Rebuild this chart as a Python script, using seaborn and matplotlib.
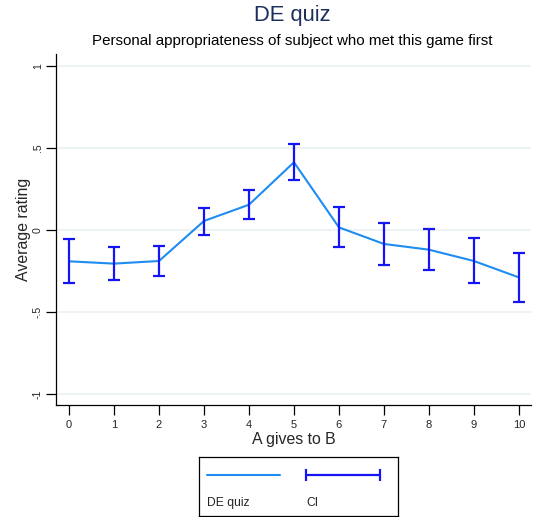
import numpy as np
import pandas as pd
import matplotlib
matplotlib.use("Agg")
import matplotlib.pyplot as plt
import seaborn as sns

# Amount A gives to B and the mean rating with its confidence interval
gives = [0, 1, 2, 3, 4, 5, 6, 7, 8, 9, 10]
mean_rating = [-0.191, -0.205, -0.189, 0.055, 0.154, 0.413, 0.016, -0.085, -0.120, -0.189, -0.289]
ci_upper = [-0.055, -0.106, -0.098, 0.132, 0.246, 0.522, 0.138, 0.045, 0.008, -0.051, -0.142]
ci_lower = [-0.321, -0.305, -0.279, -0.029, 0.065, 0.307, -0.102, -0.215, -0.246, -0.323, -0.439]
y_ticks = [-1, -0.5, 0, 0.5, 1]
y_tick_labels = ["-1", "-.5", "0", ".5", "1"]

df = pd.DataFrame({"gives": gives, "mean": mean_rating,
                   "lo": ci_lower, "hi": ci_upper})

sns.set_theme(style="white")
plt.rcParams["font.family"] = ["Liberation Sans", "DejaVu Sans"]

line_color = "#1e8cf0"
ci_color = "#1414f5"
grid_color = "#eaf0f2"

fig = plt.figure(figsize=(5.33, 5.17), dpi=100)
ax = fig.add_axes([56 / 533, 1 - 405 / 517, (531 - 56) / 533, (405 - 54) / 517])

for yv in y_ticks:
    ax.axhline(yv, color=grid_color, lw=1.2, zorder=0)

sns.lineplot(data=df, x="gives", y="mean", ax=ax, color=line_color,
             lw=1.5, zorder=2, legend=False)
ax.errorbar(df["gives"], df["mean"],
            yerr=[df["mean"] - df["lo"], df["hi"] - df["mean"]],
            fmt="none", ecolor=ci_color, elinewidth=1.6, capsize=4,
            capthick=1.6, zorder=3)

ax.set_xlim(-0.29, 10.27)
ax.set_ylim(-1.067, 1.073)
ax.set_xticks(gives)
ax.set_xticklabels([str(g) for g in gives], fontsize=8)
ax.set_yticks(y_ticks)
ax.set_yticklabels(y_tick_labels, fontsize=7.6, rotation=90, va="center")
ax.tick_params(axis="both", direction="out", length=7, width=0.9,
               color="black", bottom=True, left=True)
ax.tick_params(axis="x", pad=4)
ax.tick_params(axis="y", pad=2.5)

for side in ["top", "right"]:
    ax.spines[side].set_visible(False)
for side in ["left", "bottom"]:
    ax.spines[side].set_color("black")
    ax.spines[side].set_linewidth(0.9)

ax.set_xlabel("A gives to B", fontsize=11.4, labelpad=1)
ax.set_ylabel("Average rating", fontsize=11.4, labelpad=1)

fig.text(292 / 533, 1 - 16 / 517, "DE quiz", ha="center", va="center",
         fontsize=15.8, color="#1c2e5c")
fig.text(292 / 533, 1 - 41 / 517,
         "Personal appropriateness of subject who met this game first",
         ha="center", va="center", fontsize=10.9, color="black")

# Legend box: keys above labels in two columns
lax = fig.add_axes([199 / 533, 1 - 516 / 517, (398 - 199) / 533, (516 - 457) / 517])
lax.set_xlim(0, 199)
lax.set_ylim(59, 0)
lax.set_xticks([])
lax.set_yticks([])
for s in lax.spines.values():
    s.set_color("black")
    s.set_linewidth(0.9)
lax.plot([8, 81], [18, 18], color=line_color, lw=1.5)
lax.errorbar([(107 + 181) / 2], [18], xerr=[[37]], fmt="none",
             ecolor=ci_color, elinewidth=1.6, capsize=4, capthick=1.6)
lax.text(8, 46, "DE quiz", fontsize=8.7, va="center", ha="left")
lax.text(107, 46, "CI", fontsize=8.7, va="center", ha="left")

fig.savefig("out.png", dpi=100, facecolor="white")
